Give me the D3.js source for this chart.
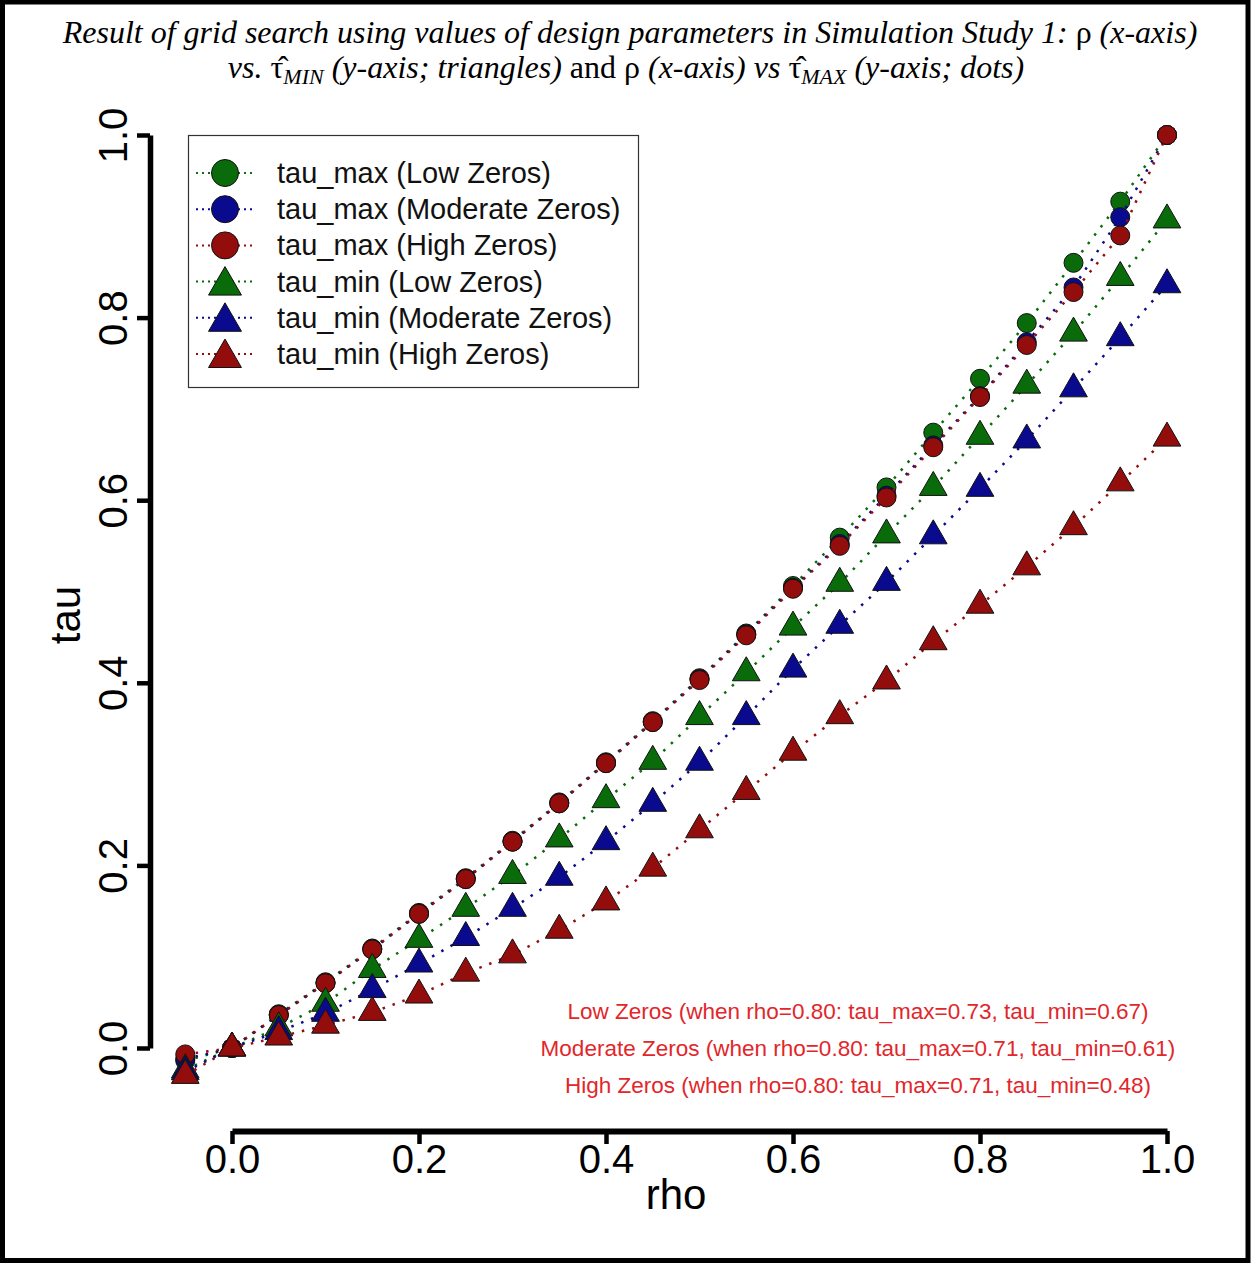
<!DOCTYPE html>
<html>
<head>
<meta charset="utf-8">
<script src="https://cdn.jsdelivr.net/npm/d3@7"></script>
<style>
  body { margin: 0; background: #fff; }
  svg { display: block; }
</style>
</head>
<body>
<svg id="chart"></svg>
<script>
// rho grid (x) and the six tau series
const rho = [-0.05, 0.00, 0.05, 0.10, 0.15, 0.20, 0.25, 0.30, 0.35, 0.40, 0.45,
             0.50, 0.55, 0.60, 0.65, 0.70, 0.75, 0.80, 0.85, 0.90, 0.95, 1.00];

const tauMaxLow      = [-0.014, 0.000, 0.037, 0.072, 0.109, 0.148, 0.186, 0.227, 0.269, 0.313, 0.358,
                        0.405, 0.454, 0.506, 0.559, 0.614, 0.674, 0.733, 0.794, 0.860, 0.927, 1.000];
const tauMaxModerate = [-0.012, 0.000, 0.036, 0.071, 0.108, 0.147, 0.185, 0.226, 0.268, 0.312, 0.357,
                        0.404, 0.453, 0.504, 0.552, 0.605, 0.660, 0.714, 0.773, 0.833, 0.910, 1.000];
const tauMaxHigh     = [-0.007, 0.000, 0.036, 0.071, 0.108, 0.147, 0.185, 0.226, 0.268, 0.312, 0.357,
                        0.403, 0.452, 0.503, 0.550, 0.603, 0.658, 0.713, 0.770, 0.828, 0.890, 1.000];
const tauMinLow      = [-0.024, 0.000, 0.022, 0.049, 0.086, 0.119, 0.153, 0.189, 0.229, 0.272, 0.314,
                        0.363, 0.411, 0.461, 0.509, 0.562, 0.614, 0.670, 0.726, 0.783, 0.844, 0.907];
const tauMinModerate = [-0.026, 0.000, 0.018, 0.038, 0.064, 0.092, 0.121, 0.153, 0.187, 0.226, 0.268,
                        0.313, 0.363, 0.415, 0.463, 0.510, 0.561, 0.613, 0.666, 0.722, 0.778, 0.836];
const tauMinHigh     = [-0.030, 0.000, 0.012, 0.025, 0.039, 0.058, 0.082, 0.102, 0.129, 0.160, 0.197,
                        0.239, 0.281, 0.324, 0.364, 0.402, 0.445, 0.485, 0.527, 0.571, 0.619, 0.668];

const seriesNames = ["tau_max (Low Zeros)", "tau_max (Moderate Zeros)", "tau_max (High Zeros)",
                     "tau_min (Low Zeros)", "tau_min (Moderate Zeros)", "tau_min (High Zeros)"];
const seriesValues = [tauMaxLow, tauMaxModerate, tauMaxHigh, tauMinLow, tauMinModerate, tauMinHigh];
const seriesShapes = ["circle", "circle", "circle", "triangle", "triangle", "triangle"];
const seriesColors = ["#0a6b0a", "#0a0a8e", "#930d0d", "#0a6b0a", "#0a0a8e", "#930d0d"];

const xTicks = [0, 0.2, 0.4, 0.6, 0.8, 1.0];
const yTicks = [0, 0.2, 0.4, 0.6, 0.8, 1.0];

const notes = [
    "Low Zeros (when rho=0.80: tau_max=0.73, tau_min=0.67)",
    "Moderate Zeros (when rho=0.80: tau_max=0.71, tau_min=0.61)",
    "High Zeros (when rho=0.80: tau_max=0.71, tau_min=0.48)"
];

const W = 1251, H = 1263;
const svg = d3.select("#chart").attr("width", W).attr("height", H);

svg.append("rect").attr("width", W).attr("height", H).attr("fill", "#fff");

const x = d3.scaleLinear().domain([0, 1]).range([232, 1167]);
const y = d3.scaleLinear().domain([0, 1]).range([1048, 135]);

// R pch 24 triangle geometry (apex r above centre, base r/2 below)
function triPath(r) {
    const xc = r * Math.sqrt(3) / 2;
    return `M0,${-r}L${xc},${r / 2}L${-xc},${r / 2}Z`;
}

// title
const sans = "'Liberation Sans', Arial, sans-serif";
const serif = "'Liberation Serif', 'Times New Roman', serif";
const title = svg.append("g").style("font-family", serif).style("font-size", "32px");

const t1 = title.append("text").attr("x", 630).attr("y", 43).attr("text-anchor", "middle");
t1.append("tspan").style("font-style", "italic").text("Result of grid search using values of design parameters in Simulation Study 1: ");
t1.append("tspan").text("ρ");
t1.append("tspan").style("font-style", "italic").text(" (x-axis)");

const t2 = title.append("text").attr("x", 626).attr("y", 78).attr("text-anchor", "middle");
t2.append("tspan").style("font-style", "italic").text("vs. ");
t2.append("tspan").text("τ\u0302");
t2.append("tspan").style("font-style", "italic").style("font-size", "22px").attr("dy", 6).text("MIN");
t2.append("tspan").style("font-style", "italic").attr("dy", -6).text(" (y-axis; triangles) ");
t2.append("tspan").text("and ρ");
t2.append("tspan").style("font-style", "italic").text(" (x-axis) vs ");
t2.append("tspan").text("τ\u0302");
t2.append("tspan").style("font-style", "italic").style("font-size", "22px").attr("dy", 6).text("MAX");
t2.append("tspan").style("font-style", "italic").attr("dy", -6).text(" (y-axis; dots)");

// axes
const yAxis = svg.append("g")
    .attr("transform", "translate(150,0)")
    .call(d3.axisLeft(y).tickValues(yTicks).tickSize(13).tickSizeOuter(0).tickFormat(d3.format(".1f")));
yAxis.select(".domain").attr("stroke", "#000").attr("stroke-width", 5.5);
yAxis.selectAll(".tick line").attr("stroke", "#000").attr("stroke-width", 4.5);
yAxis.selectAll(".tick text")
    .attr("transform", "rotate(-90)")
    .attr("x", 0).attr("y", -23).attr("dy", null)
    .attr("text-anchor", "middle")
    .style("font-family", sans).style("font-size", "40px").attr("fill", "#000");

const xAxis = svg.append("g")
    .attr("transform", "translate(0,1131)")
    .call(d3.axisBottom(x).tickValues(xTicks).tickSize(13).tickSizeOuter(0).tickFormat(d3.format(".1f")));
xAxis.select(".domain").attr("stroke", "#000").attr("stroke-width", 6);
xAxis.selectAll(".tick line").attr("stroke", "#000").attr("stroke-width", 4.5);
xAxis.selectAll(".tick text")
    .attr("y", 42).attr("dy", null)
    .style("font-family", sans).style("font-size", "40px").attr("fill", "#000");

svg.append("text")
    .attr("transform", "translate(80,615) rotate(-90)")
    .attr("text-anchor", "middle")
    .style("font-family", sans).style("font-size", "42px")
    .text("tau");

svg.append("text")
    .attr("x", 676).attr("y", 1209)
    .attr("text-anchor", "middle")
    .style("font-family", sans).style("font-size", "42px")
    .text("rho");

// series: dotted line then markers, in legend order
const line = d3.line().x((d, i) => x(rho[i])).y(d => y(d));
seriesValues.forEach((vals, s) => {
    svg.append("path")
        .attr("d", line(vals))
        .attr("fill", "none")
        .attr("stroke", seriesColors[s])
        .attr("stroke-width", 2.5)
        .attr("stroke-dasharray", "2.5,8");

    const g = svg.append("g");
    if (seriesShapes[s] === "circle") {
        g.selectAll("circle").data(vals).enter().append("circle")
            .attr("cx", (d, i) => x(rho[i]))
            .attr("cy", d => y(d))
            .attr("r", 9.5)
            .attr("fill", seriesColors[s])
            .attr("stroke", "#111").attr("stroke-width", 1);
    } else {
        g.selectAll("path").data(vals).enter().append("path")
            .attr("d", triPath(16))
            .attr("transform", (d, i) => `translate(${x(rho[i])},${y(d)})`)
            .attr("fill", seriesColors[s])
            .attr("stroke", "#111").attr("stroke-width", 1);
    }
});

// legend
const legend = svg.append("g");
legend.append("rect")
    .attr("x", 188.5).attr("y", 135.5).attr("width", 450).attr("height", 252)
    .attr("fill", "#fff").attr("stroke", "#333").attr("stroke-width", 1.2);
seriesNames.forEach((name, s) => {
    const ly = 173 + s * 36.2;
    legend.append("line")
        .attr("x1", 196).attr("x2", 256).attr("y1", ly).attr("y2", ly)
        .attr("stroke", seriesColors[s]).attr("stroke-width", 2)
        .attr("stroke-dasharray", "2,4");
    if (seriesShapes[s] === "circle") {
        legend.append("circle").attr("cx", 225).attr("cy", ly).attr("r", 13.5)
            .attr("fill", seriesColors[s]).attr("stroke", "#111").attr("stroke-width", 1);
    } else {
        legend.append("path").attr("d", triPath(19))
            .attr("transform", `translate(225,${ly + 4})`)
            .attr("fill", seriesColors[s]).attr("stroke", "#111").attr("stroke-width", 1);
    }
    legend.append("text")
        .attr("x", 277).attr("y", ly + 10)
        .style("font-family", sans).style("font-size", "29px")
        .attr("fill", "#111")
        .text(name);
});

// annotation
svg.append("g").selectAll("text").data(notes).enter().append("text")
    .attr("x", 858)
    .attr("y", (d, i) => 1019 + i * 37)
    .attr("text-anchor", "middle")
    .style("font-family", sans).style("font-size", "22.5px")
    .attr("fill", "#e2262a")
    .text(d => d);

// outer frame
svg.append("rect")
    .attr("x", 2.5).attr("y", 2).attr("width", W - 5.5).attr("height", H - 4.5)
    .attr("fill", "none").attr("stroke", "#000").attr("stroke-width", 5);
</script>
</body>
</html>
